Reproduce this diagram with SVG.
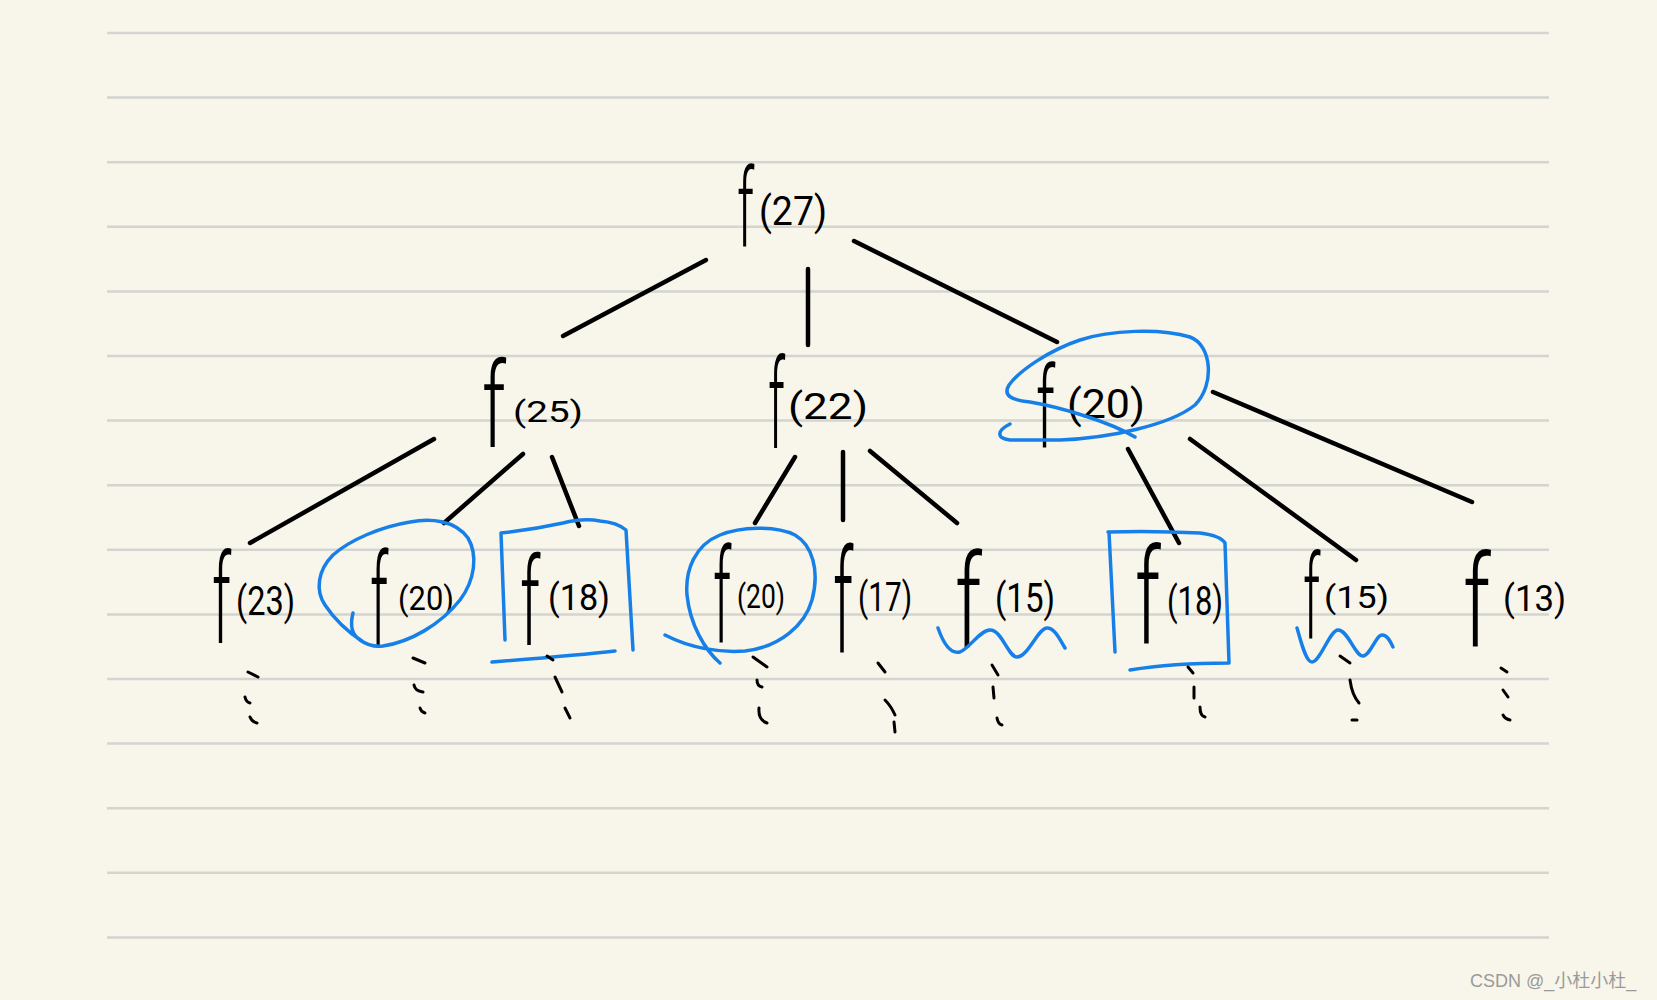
<svg xmlns="http://www.w3.org/2000/svg" width="1657" height="1000" viewBox="0 0 1657 1000">
<style>
.rule{stroke:#d4d4d1;stroke-width:2.5}
.edge{stroke:#000;stroke-width:4.5;stroke-linecap:round;fill:none}
.mark{stroke:#1780e8;stroke-width:3.5;stroke-linecap:round;stroke-linejoin:round;fill:none}
.dot{stroke:#000;stroke-width:3;stroke-linecap:round;fill:none}
.f{font-family:Roboto,"Liberation Sans",sans-serif;font-weight:300;fill:#000}
.a{font-family:Roboto,"Liberation Sans",sans-serif;font-weight:400;fill:#000}
.wm{font-family:"Liberation Sans","Noto Sans CJK SC",sans-serif;font-size:18px;fill:#9a9a9a}
</style>
<rect width="1657" height="1000" fill="#f8f6ea"/>
<g id="rules">
<line class="rule" x1="107" y1="33" x2="1549" y2="33"/>
<line class="rule" x1="107" y1="97.6" x2="1549" y2="97.6"/>
<line class="rule" x1="107" y1="162.2" x2="1549" y2="162.2"/>
<line class="rule" x1="107" y1="226.8" x2="1549" y2="226.8"/>
<line class="rule" x1="107" y1="291.4" x2="1549" y2="291.4"/>
<line class="rule" x1="107" y1="356" x2="1549" y2="356"/>
<line class="rule" x1="107" y1="420.6" x2="1549" y2="420.6"/>
<line class="rule" x1="107" y1="485.2" x2="1549" y2="485.2"/>
<line class="rule" x1="107" y1="549.8" x2="1549" y2="549.8"/>
<line class="rule" x1="107" y1="614.4" x2="1549" y2="614.4"/>
<line class="rule" x1="107" y1="679" x2="1549" y2="679"/>
<line class="rule" x1="107" y1="743.6" x2="1549" y2="743.6"/>
<line class="rule" x1="107" y1="808.2" x2="1549" y2="808.2"/>
<line class="rule" x1="107" y1="872.8" x2="1549" y2="872.8"/>
<line class="rule" x1="107" y1="937.4" x2="1549" y2="937.4"/>
</g>
<g id="connectors">
<line class="edge" x1="706" y1="260" x2="563" y2="336"/>
<line class="edge" x1="808" y1="269" x2="808" y2="345"/>
<line class="edge" x1="854" y1="241" x2="1057" y2="342"/>
<line class="edge" x1="434" y1="439" x2="250" y2="543"/>
<line class="edge" x1="523" y1="454" x2="444" y2="523"/>
<line class="edge" x1="552" y1="457" x2="579" y2="526"/>
<line class="edge" x1="795" y1="457" x2="755" y2="523"/>
<line class="edge" x1="843" y1="452" x2="843" y2="520"/>
<line class="edge" x1="870" y1="451" x2="957" y2="523"/>
<line class="edge" x1="1128" y1="449" x2="1179" y2="543"/>
<line class="edge" x1="1190" y1="439" x2="1356" y2="560"/>
<line class="edge" x1="1213" y1="392" x2="1472" y2="502"/>
</g>
<g id="n27">
<text class="f" transform="translate(737,247) scale(0.47,1)" font-size="110">f</text>
<text class="a" x="759" y="225" font-size="40" textLength="68" lengthAdjust="spacingAndGlyphs">(27)</text>
</g>
<g id="n25">
<text class="f" transform="translate(482,447) scale(0.61,1)" font-size="118">f</text>
<text class="a" x="513" y="422" font-size="30" textLength="70" lengthAdjust="spacingAndGlyphs">(25)</text>
</g>
<g id="n22">
<text class="f" transform="translate(768,448) scale(0.41,1)" font-size="125">f</text>
<text class="a" x="788" y="419" font-size="36" textLength="80" lengthAdjust="spacingAndGlyphs">(22)</text>
</g>
<g id="n20a">
<text class="f" transform="translate(1036,447) scale(0.505,1)" font-size="114">f</text>
<text class="a" x="1067" y="418" font-size="40" textLength="78" lengthAdjust="spacingAndGlyphs">(20)</text>
<path class="mark" d="M1010,424 C998,430 995,438 1010,440 L1060,440 C1110,438 1170,425 1195,405 C1215,385 1212,345 1190,337 C1160,328 1110,330 1080,340 C1050,350 1020,370 1009,385 C1003,395 1010,400 1030,402 C1060,407 1110,422 1135,437"/>
</g>
<g id="n23">
<text class="f" transform="translate(212,643) scale(0.46,1)" font-size="125">f</text>
<text class="a" x="236" y="615" font-size="40" textLength="59" lengthAdjust="spacingAndGlyphs">(23)</text>
<path class="dot" d="M248,672 L258,677 M245,697 Q246,702 250,703 M250,717 Q252,722 257,723"/>
</g>
<g id="n20b">
<text class="f" transform="translate(370,647) scale(0.42,1)" font-size="131">f</text>
<text class="a" x="398" y="610" font-size="34" textLength="56" lengthAdjust="spacingAndGlyphs">(20)</text>
<path class="mark" d="M353,613 C350,625 352,635 360,640 C367,645 375,647 383,646 C410,642 440,625 460,600 C475,580 478,555 468,538 C455,520 430,518 410,522 C380,527 350,540 333,555 C318,570 315,590 325,605 C335,620 348,632 362,641"/>
<path class="dot" d="M413,658 L425,663 M414,685 Q415,691 423,692 M420,708 Q421,712 425,713"/>
</g>
<g id="n18a">
<text class="f" transform="translate(520,645) scale(0.5,1)" font-size="122">f</text>
<text class="a" x="548" y="610" font-size="36" textLength="62" lengthAdjust="spacingAndGlyphs">(18)</text>
<path class="mark" d="M501,533 L505,640 M501,533 C520,531 545,527 563,523 C575,520 590,519 600,521 C612,522 620,525 626,530 L633,650 M492,662 C530,659 580,655 615,651"/>
<path class="dot" d="M547,656 L553,660 M555,677 L562,692 M565,708 L570,718"/>
</g>
<g id="n20c">
<text class="f" transform="translate(713,642) scale(0.42,1)" font-size="131">f</text>
<text class="a" x="737" y="608" font-size="34" textLength="48" lengthAdjust="spacingAndGlyphs">(20)</text>
<path class="mark" d="M665,635 C690,648 720,653 745,651 C780,647 805,625 812,600 C820,570 812,545 795,535 C775,525 740,527 720,535 C695,545 685,570 687,595 C690,625 705,650 720,663"/>
<path class="dot" d="M753,657 L767,667 M757,680 Q757,686 762,687 M759,708 Q758,720 767,723"/>
</g>
<g id="n17">
<text class="f" transform="translate(833,653) scale(0.42,1)" font-size="145">f</text>
<text class="a" x="858" y="611" font-size="40" textLength="54" lengthAdjust="spacingAndGlyphs">(17)</text>
<path class="dot" d="M878,663 L885,672 M885,700 Q891,706 895,715 M894,722 L895,732"/>
</g>
<g id="n15a">
<text class="f" transform="translate(955,648) scale(0.625,1)" font-size="129">f</text>
<text class="a" x="995" y="612" font-size="40" textLength="60" lengthAdjust="spacingAndGlyphs">(15)</text>
<path class="mark" d="M938,628 C945,648 952,654 960,652 C970,648 980,630 990,630 C1002,630 1008,657 1017,657 C1028,657 1038,628 1047,628 C1055,628 1060,640 1065,648"/>
<path class="dot" d="M992,665 L998,675 M993,687 L994,698 M997,718 Q998,724 1002,725"/>
</g>
<g id="n18b">
<text class="f" transform="translate(1135,643) scale(0.58,1)" font-size="133">f</text>
<text class="a" x="1167" y="615" font-size="40" textLength="56" lengthAdjust="spacingAndGlyphs">(18)</text>
<path class="mark" d="M1108,532 C1140,531 1180,532 1200,533 C1215,535 1222,538 1225,543 L1229,663 M1109,532 L1115,652 M1130,670 C1160,665 1200,663 1229,663"/>
<path class="dot" d="M1188,667 L1193,673 M1194,687 L1194,698 M1200,707 Q1200,716 1205,717"/>
</g>
<g id="n15b">
<text class="f" transform="translate(1303,638) scale(0.45,1)" font-size="116">f</text>
<text class="a" x="1324" y="608" font-size="32" textLength="65" lengthAdjust="spacingAndGlyphs">(15)</text>
<path class="mark" d="M1297,628 C1302,645 1306,662 1312,662 C1320,662 1330,630 1338,630 C1348,630 1355,656 1363,656 C1370,656 1376,635 1382,635 C1388,635 1391,643 1393,647"/>
<path class="dot" d="M1340,656 L1350,663 M1350,680 Q1352,695 1359,703 M1352,720 L1357,720"/>
</g>
<g id="n13">
<text class="f" transform="translate(1463,647) scale(0.65,1)" font-size="128">f</text>
<text class="a" x="1503" y="611" font-size="36" textLength="63" lengthAdjust="spacingAndGlyphs">(13)</text>
<path class="dot" d="M1501,668 L1507,672 M1503,690 L1508,697 M1503,715 Q1505,719 1510,720"/>
</g>
<text class="wm" x="1470" y="987">CSDN @_小杜小杜_</text>
</svg>
